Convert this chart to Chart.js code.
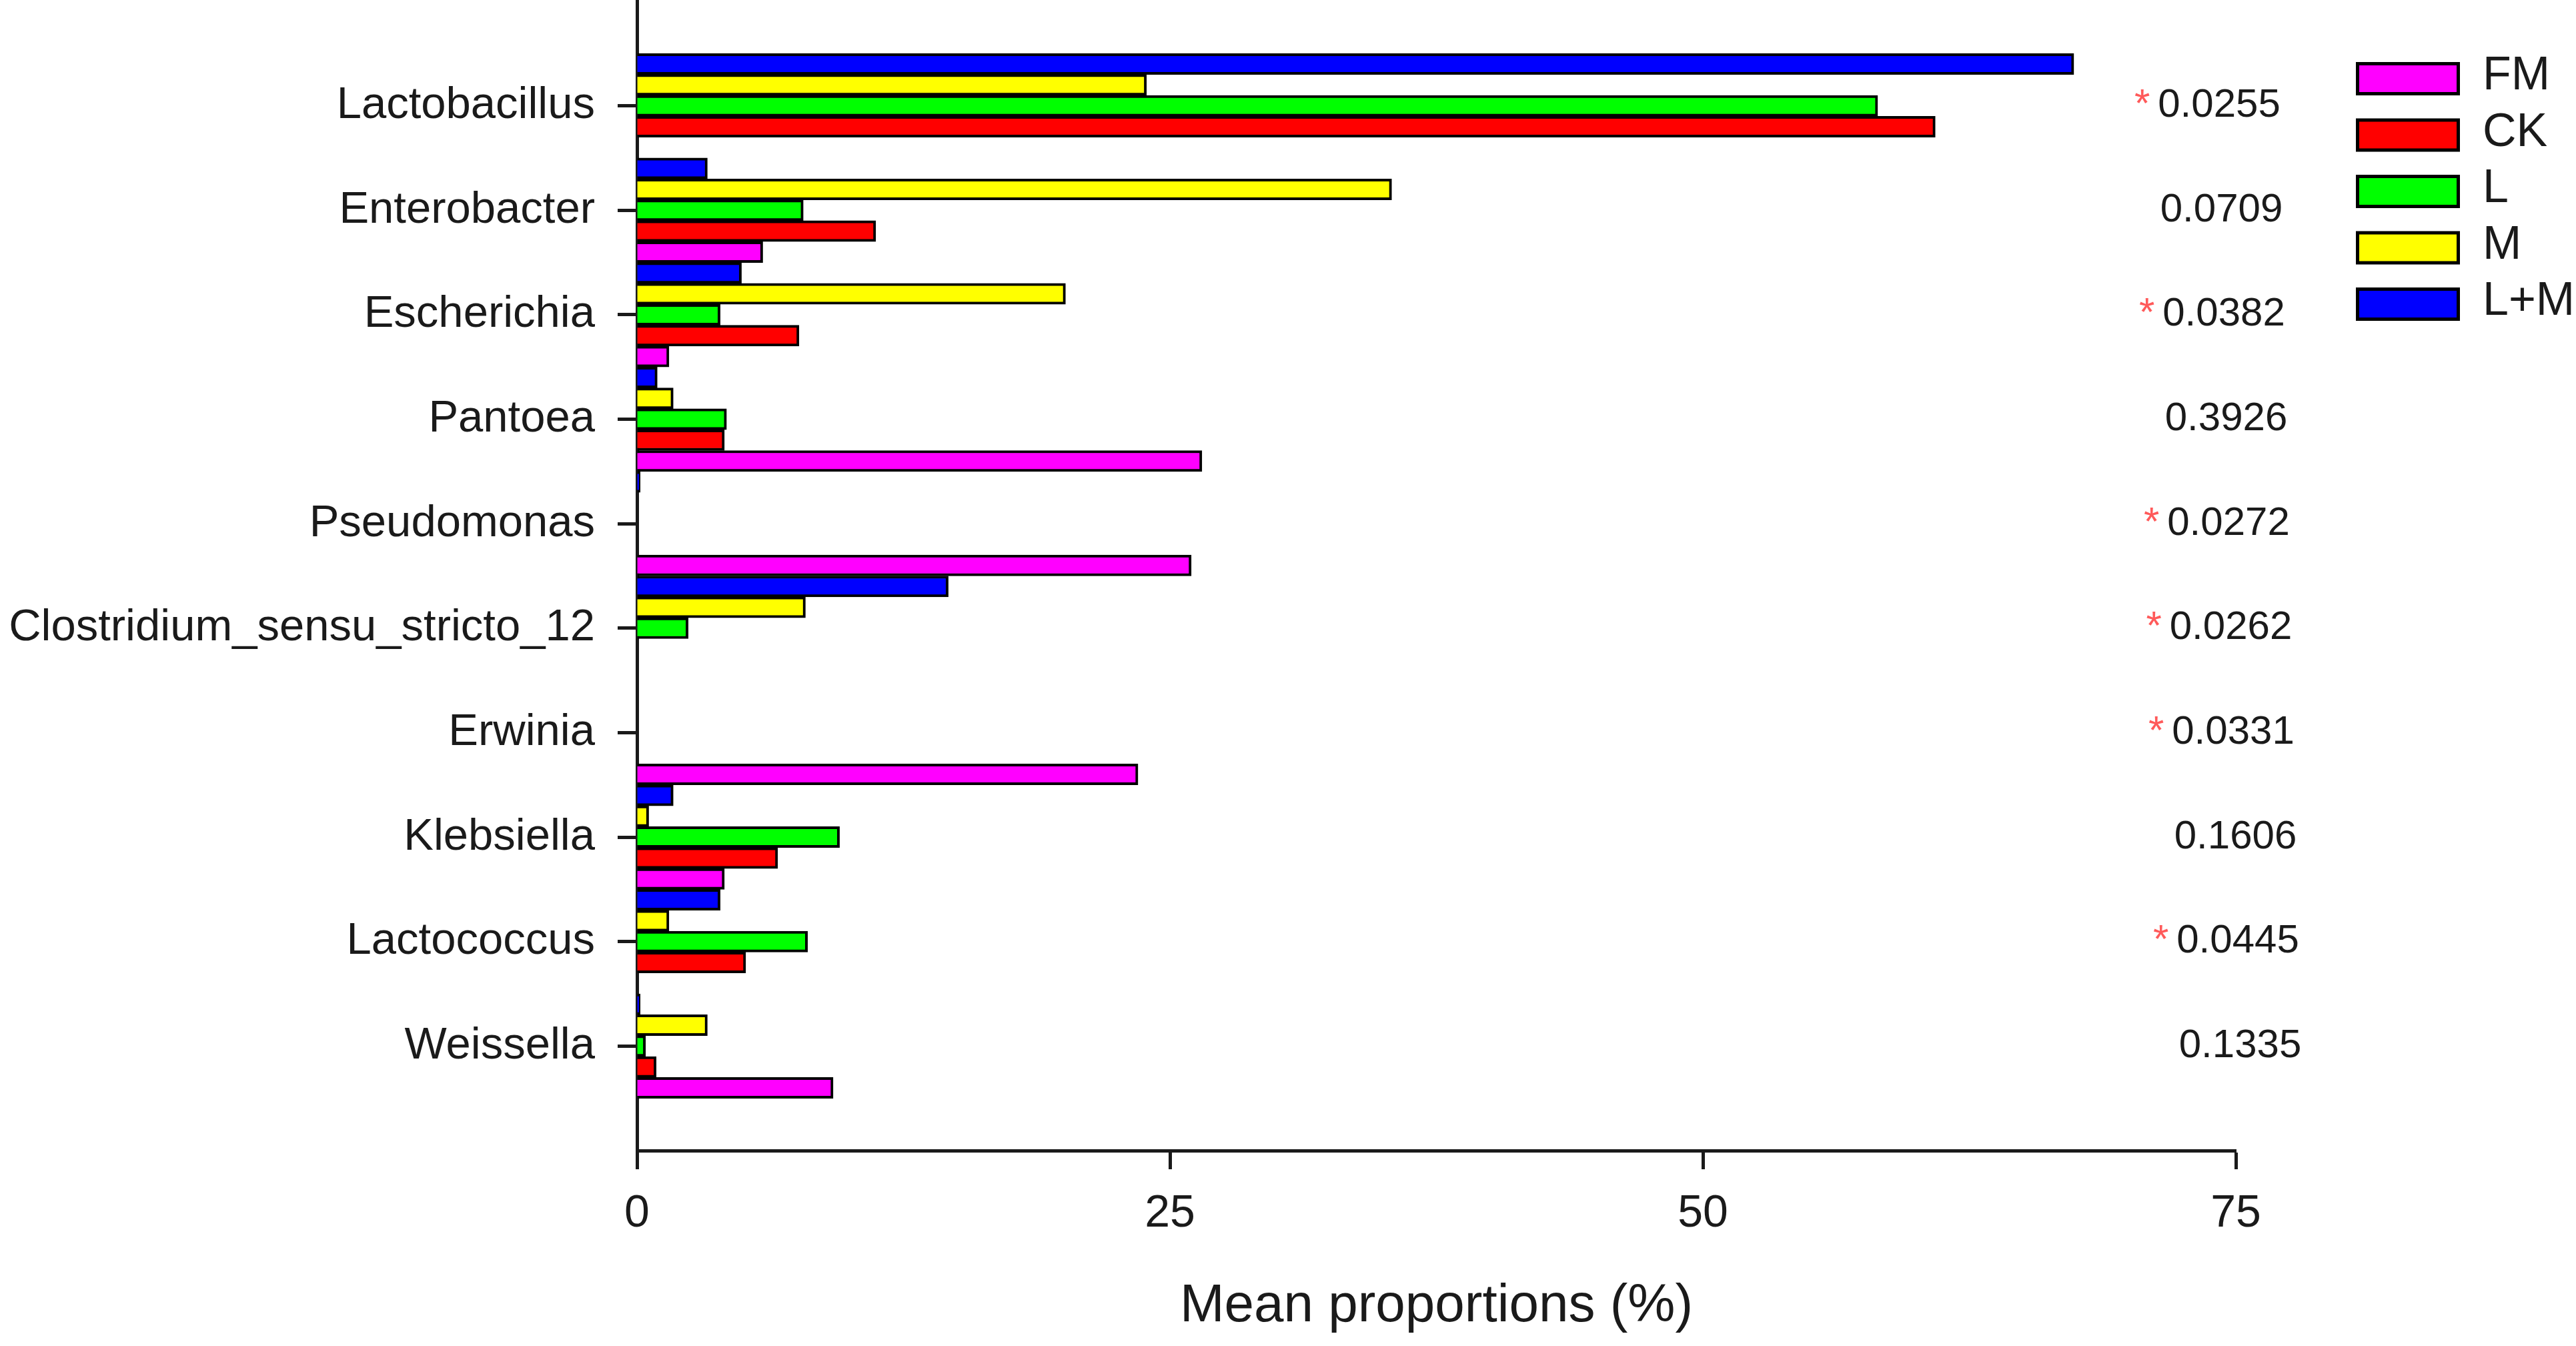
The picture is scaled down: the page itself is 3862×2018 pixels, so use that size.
<!DOCTYPE html>
<html>
<head>
<meta charset="utf-8">
<script src="https://cdn.jsdelivr.net/npm/chart.js@4.4.1/dist/chart.umd.min.js"></script>
<style>
html,body{margin:0;padding:0;background:#ffffff;}
#wrap{width:3862px;height:2018px;position:relative;}
</style>
</head>
<body>
<div id="wrap"><canvas id="c"></canvas></div>
<script>
// ---- data ----
const categories = ['Lactobacillus','Enterobacter','Escherichia','Pantoea','Pseudomonas',
  'Clostridium_sensu_stricto_12','Erwinia','Klebsiella','Lactococcus','Weissella'];
const seriesNames  = ['L+M','M','L','CK','FM'];
const seriesColors = ['#0000ff','#ffff00','#00ff00','#ff0000','#ff00ff'];
const valuesLM = [67.4, 3.3, 4.9, 0.95, 0.15, 14.6, 0,   1.7,  3.9, 0.15];
const valuesM  = [23.9, 35.4, 20.1, 1.7, 0,    7.9,  0,   0.55, 1.5, 3.3];
const valuesL  = [58.2, 7.8, 3.9, 4.2,  0,    2.4,  0,   9.5,  8.0, 0.4];
const valuesCK = [60.9, 11.2, 7.6, 4.1, 0,    0,    0,   6.6,  5.1, 0.9];
const valuesFM = [0,    5.9, 1.5, 26.5, 26.0, 0,    23.5, 4.1, 0,   9.2];
const pValues  = ['0.0255','0.0709','0.0382','0.3926','0.0272','0.0262','0.0331','0.1606','0.0445','0.1335'];
const xTicks   = [0, 25, 50, 75];
const xTitle   = 'Mean proportions (%)';

// ---- chart ----
const FONT = "'Liberation Sans', Arial, sans-serif";
Chart.defaults.font.family = FONT;
const INK = '#1a1a1a';

const seriesValues = [valuesLM, valuesM, valuesL, valuesCK, valuesFM];
const labels = [''].concat(categories, ['']);
const datasets = seriesNames.map((name, i) => ({
  label: name,
  data: [null].concat(seriesValues[i], [null]),
  backgroundColor: seriesColors[i],
  borderColor: '#000000',
  borderWidth: 4,
  categoryPercentage: 1,
  barPercentage: 1
}));

const extrasPlugin = {
  id: 'extras',
  afterDraw(chart) {
    const ctx = chart.ctx;
    const ys = chart.scales.y;
    const area = chart.chartArea;
    ctx.save();
    // p-values
    ctx.font = '60px ' + FONT;
    ctx.textBaseline = 'middle';
    pValues.forEach((p, i) => {
      const y = ys.getPixelForValue(i + 1);
      const cx = area.right - 25 + i * 3.5;
      ctx.fillStyle = INK;
      ctx.textAlign = 'center';
      ctx.fillText(p, cx, y);
      if (parseFloat(p) < 0.05) {
        const w = ctx.measureText(p).width;
        ctx.fillStyle = '#ff5a5a';
        ctx.textAlign = 'right';
        ctx.fillText('*', cx - w / 2 - 12, y);
      }
    });
    // legend (reverse order: FM, CK, L, M, L+M)
    const ds = chart.data.datasets.slice().reverse();
    const boxX = 3532, boxW = 156, boxH = 50, firstCy = 118, step = 84.5;
    ds.forEach((d, i) => {
      const cy = firstCy + i * step;
      ctx.fillStyle = '#000000';
      ctx.fillRect(boxX, cy - boxH / 2, boxW, boxH);
      ctx.fillStyle = d.backgroundColor;
      ctx.fillRect(boxX + 5, cy - boxH / 2 + 5, boxW - 10, boxH - 10);
      ctx.fillStyle = INK;
      ctx.textAlign = 'left';
      ctx.font = '70px ' + FONT;
      ctx.fillText(d.label, 3722, cy - 3);
    });
    ctx.restore();
  }
};

new Chart(document.getElementById('c'), {
  type: 'bar',
  data: { labels, datasets },
  options: {
    indexAxis: 'y',
    responsive: true,
    maintainAspectRatio: false,
    devicePixelRatio: 1,
    animation: false,
    layout: { padding: { left: 10, top: 2, right: 510, bottom: 0 } },
    plugins: { legend: { display: false }, tooltip: { enabled: false } },
    scales: {
      y: {
        type: 'category',
        offset: false,
        grid: { display: true, offset: false, drawOnChartArea: false, drawTicks: true,
                tickLength: 29, tickWidth: 5, tickColor: INK },
        border: { display: true, color: INK, width: 5 },
        ticks: { autoSkip: false, padding: 34, color: INK, font: { size: 67 } },
        afterBuildTicks(scale) {
          scale.ticks = scale.ticks.filter(t => t.value >= 1 && t.value <= categories.length);
        },
        afterFit(scale) {
          scale.width = 945;
          scale.paddingTop = 0;
          scale.paddingBottom = 0;
        }
      },
      x: {
        type: 'linear',
        min: xTicks[0],
        max: xTicks[xTicks.length - 1],
        grid: { display: true, drawOnChartArea: false, drawTicks: true,
                tickLength: 28, tickWidth: 5, tickColor: INK },
        border: { display: true, color: INK, width: 5 },
        ticks: { padding: 26, color: INK, font: { size: 68 }, maxRotation: 0 },
        afterBuildTicks(scale) { scale.ticks = xTicks.map(v => ({ value: v })); },
        title: { display: true, text: xTitle, color: INK, font: { size: 80 },
                 padding: { top: 0, bottom: 11 } },
        afterFit(scale) {
          scale.height = 293;
          scale.paddingLeft = 0;
          scale.paddingRight = 0;
        }
      }
    }
  },
  plugins: [extrasPlugin]
});
</script>
</body>
</html>
